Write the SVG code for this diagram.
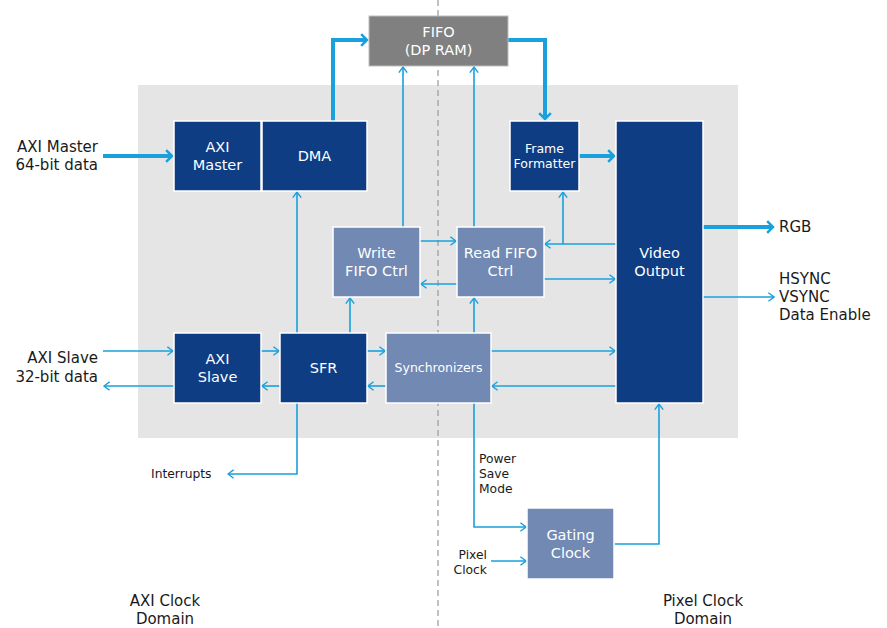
<svg xmlns="http://www.w3.org/2000/svg" width="887" height="628" viewBox="0 0 887 628">
<style>
.dark{fill:#0e3d84;stroke:#ffffff;stroke-width:1.5}
.light{fill:#7189b3;stroke:#ffffff;stroke-width:1.5}
.fifo{fill:#808080;stroke:#bdbdbd;stroke-width:1}
.bt{font-family:"DejaVu Sans",Verdana,sans-serif;font-size:14.5px;fill:#ffffff;text-anchor:middle}
.bs{font-size:12.5px}
.lt{font-family:"DejaVu Sans",Verdana,sans-serif;font-size:15px;fill:#1a1a1a}
.st{font-size:12.3px}
.thin{fill:none;stroke:#19a0dd;stroke-width:1.6;marker-end:url(#ah)}
.thick{fill:none;stroke:#19a0dd;stroke-width:4;marker-end:url(#ahT)}
</style>
<defs>
<marker id="ah" viewBox="0 0 10 14" refX="9" refY="7" markerWidth="7" markerHeight="10" markerUnits="userSpaceOnUse" orient="auto">
<path d="M1,1 L9,7 L1,13" fill="none" stroke="#19a0dd" stroke-width="2"/>
</marker>
<marker id="ahT" viewBox="0 0 10 16" refX="8" refY="8" markerWidth="9" markerHeight="15" markerUnits="userSpaceOnUse" orient="auto">
<path d="M1.5,1.5 L8,8 L1.5,14.5" fill="none" stroke="#19a0dd" stroke-width="2.8"/>
</marker>
</defs>
<rect x="0" y="0" width="887" height="628" fill="#ffffff"/>
<rect id="background" x="138" y="85" width="600" height="353" fill="#e5e5e5"/>
<line id="divider" x1="438" y1="0" x2="438" y2="628" stroke="#a0a0a0" stroke-width="1.3" stroke-dasharray="6,4"/>

<g id="connectors">
<path class="thick" d="M333,121 V40 H367"/>
<path class="thick" d="M508,40 H545 V119"/>
<path class="thick" d="M103,156 H172"/>
<path class="thick" d="M579,156 H614"/>
<path class="thick" d="M703,227 H773"/>
<path class="thin" d="M703,297 H774"/>
<path class="thin" d="M403,227 V67"/>
<path class="thin" d="M474,227 V67"/>
<path class="thin" d="M420,241 H456"/>
<path class="thin" d="M457,284 H421"/>
<path class="thin" d="M616,244 H545"/>
<path class="thin" d="M563,244 V192"/>
<path class="thin" d="M544,279 H615"/>
<path class="thin" d="M297,333 V192"/>
<path class="thin" d="M350,333 V298"/>
<path class="thin" d="M474,333 V298"/>
<path class="thin" d="M103,351 H173"/>
<path class="thin" d="M174,386 H104"/>
<path class="thin" d="M261,351 H279"/>
<path class="thin" d="M280,386 H262"/>
<path class="thin" d="M367,351 H385"/>
<path class="thin" d="M386,386 H368"/>
<path class="thin" d="M491,351 H615"/>
<path class="thin" d="M616,386 H492"/>
<path class="thin" d="M297,403 V474 H228"/>
<path class="thin" d="M474,403 V527 H526"/>
<path class="thin" d="M491,561 H526"/>
<path class="thin" d="M614,544 H659 V404"/>
</g>

<g id="fifo">
<rect class="fifo" x="369" y="16" width="139" height="50"/>
<text class="bt" fill="#eeeeee" x="438.5" y="37">FIFO</text>
<text class="bt" x="438.5" y="55">(DP RAM)</text>
</g>
<g id="axi-master">
<rect class="dark" x="174" y="121" width="87" height="70"/>
<text class="bt" x="217.5" y="152">AXI</text>
<text class="bt" x="217.5" y="170">Master</text>
</g>
<g id="dma">
<rect class="dark" x="262" y="121" width="105" height="70"/>
<text class="bt" x="314.5" y="161">DMA</text>
</g>
<g id="frame-formatter">
<rect class="dark" x="510" y="121" width="69" height="70"/>
<text class="bt bs" x="544.5" y="153">Frame</text>
<text class="bt bs" x="544.5" y="168">Formatter</text>
</g>
<g id="video-output">
<rect class="dark" x="616" y="121" width="87" height="282"/>
<text class="bt" x="659.5" y="258">Video</text>
<text class="bt" x="659.5" y="276">Output</text>
</g>
<g id="write-fifo-ctrl">
<rect class="light" x="333" y="227" width="87" height="70"/>
<text class="bt" x="376.5" y="258">Write</text>
<text class="bt" x="376.5" y="276">FIFO Ctrl</text>
</g>
<g id="read-fifo-ctrl">
<rect class="light" x="457" y="227" width="87" height="70"/>
<text class="bt" x="500.5" y="258">Read FIFO</text>
<text class="bt" x="500.5" y="276">Ctrl</text>
</g>
<g id="axi-slave">
<rect class="dark" x="174" y="333" width="87" height="70"/>
<text class="bt" x="217.5" y="364">AXI</text>
<text class="bt" x="217.5" y="382">Slave</text>
</g>
<g id="sfr">
<rect class="dark" x="280" y="333" width="87" height="70"/>
<text class="bt" x="323.5" y="373">SFR</text>
</g>
<g id="synchronizers">
<rect class="light" x="386" y="333" width="105" height="70"/>
<text class="bt bs" x="438.5" y="372">Synchronizers</text>
</g>
<g id="gating-clock">
<rect class="light" x="527" y="508" width="87" height="71"/>
<text class="bt" x="570.5" y="540">Gating</text>
<text class="bt" x="570.5" y="558">Clock</text>
</g>

<g id="labels">
<text class="lt" text-anchor="end" x="98" y="152">AXI Master</text>
<text class="lt" text-anchor="end" x="98" y="170">64-bit data</text>
<text class="lt" text-anchor="end" x="98" y="363">AXI Slave</text>
<text class="lt" text-anchor="end" x="98" y="382">32-bit data</text>
<text class="lt" x="779" y="232">RGB</text>
<text class="lt" x="779" y="284">HSYNC</text>
<text class="lt" x="779" y="302">VSYNC</text>
<text class="lt" x="779" y="320">Data Enable</text>
<text class="lt st" x="151" y="478">Interrupts</text>
<text class="lt st" x="479" y="463">Power</text>
<text class="lt st" x="479" y="478">Save</text>
<text class="lt st" x="479" y="493">Mode</text>
<text class="lt st" text-anchor="end" x="487" y="559">Pixel</text>
<text class="lt st" text-anchor="end" x="487" y="574">Clock</text>
<text class="lt" text-anchor="middle" x="165" y="606">AXI Clock</text>
<text class="lt" text-anchor="middle" x="165" y="624">Domain</text>
<text class="lt" text-anchor="middle" x="703" y="606">Pixel Clock</text>
<text class="lt" text-anchor="middle" x="703" y="624">Domain</text>
</g>
</svg>
